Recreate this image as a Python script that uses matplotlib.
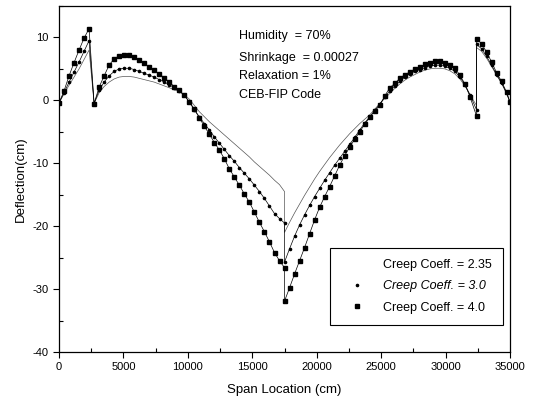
import matplotlib
matplotlib.use('Agg')
import matplotlib.pyplot as plt
from matplotlib.lines import Line2D
from matplotlib.ticker import MultipleLocator

plt.rcParams['font.family'] = ['Liberation Sans', 'DejaVu Sans']
plt.rcParams['axes.unicode_minus'] = False

# Span positions (cm) - left half up to midspan, then right half
x_left = [0, 389, 778, 1167, 1556, 1944, 2333, 2722, 3111, 3500, 3889, 4278,
          4667, 5056, 5444, 5833, 6222, 6611, 7000, 7389, 7778, 8167, 8556,
          8944, 9333, 9722, 10111, 10500, 10889, 11278, 11667, 12056, 12444,
          12833, 13222, 13611, 14000, 14389, 14778, 15167, 15556, 15944,
          16333, 16722, 17111, 17500]
x_right = [17500, 17889, 18278, 18667, 19056, 19444, 19833, 20222, 20611,
           21000, 21389, 21778, 22167, 22556, 22944, 23333, 23722, 24111,
           24500, 24889, 25278, 25667, 26056, 26444, 26833, 27222, 27611,
           28000, 28389, 28778, 29167, 29556, 29944, 30333, 30722, 31111,
           31500, 31889, 32400, 32400, 32789, 33178, 33567, 33956, 34344,
           34733, 35000]

# Creep coeff. = 2.35
d235_left = [-0.4, 1.0, 2.4, 3.7, 5.0, 6.5, 8.0, -0.5, 1.2, 2.2, 2.9, 3.4,
             3.7, 3.8, 3.8, 3.7, 3.5, 3.3, 3.1, 2.9, 2.6, 2.3, 2.0, 1.7, 1.4,
             0.9, 0.2, -0.8, -1.8, -2.6, -3.4, -4.1, -4.8, -5.5, -6.2, -6.9,
             -7.6, -8.3, -9.0, -9.8, -10.5, -11.2, -11.9, -12.7, -13.4, -14.5]
d235_right = [-21.0, -19.4, -17.9, -16.5, -15.1, -13.8, -12.5, -11.3, -10.2,
              -9.1, -8.1, -7.1, -6.2, -5.3, -4.5, -3.7, -3.0, -2.3, -1.4,
              -0.5, 0.3, 1.1, 1.9, 2.6, 3.2, 3.7, 4.1, 4.5, 4.8, 5.0, 5.1,
              5.1, 5.0, 4.7, 4.2, 3.4, 2.3, 0.9, -0.8, 8.4, 7.8, 6.7, 5.4,
              4.0, 2.7, 1.1, -0.3]

# Creep coeff. = 3.0
d30_left = [-0.4, 1.2, 2.9, 4.5, 6.1, 7.8, 9.5, -0.5, 1.6, 2.9, 3.9, 4.6,
            5.0, 5.1, 5.1, 4.9, 4.6, 4.3, 4.0, 3.7, 3.3, 2.9, 2.5, 2.0, 1.5,
            0.8, -0.3, -1.5, -2.6, -3.7, -4.7, -5.8, -6.8, -7.8, -8.8, -9.7,
            -10.7, -11.6, -12.5, -13.5, -14.5, -15.6, -16.8, -18.0, -18.8,
            -19.5]
d30_right = [-25.7, -23.6, -21.6, -19.8, -18.2, -16.7, -15.3, -14.0, -12.7,
             -11.5, -10.3, -9.2, -8.1, -7.0, -5.9, -4.7, -3.6, -2.6, -1.6,
             -0.6, 0.5, 1.5, 2.3, 3.0, 3.7, 4.2, 4.6, 4.9, 5.2, 5.4, 5.6,
             5.6, 5.4, 5.1, 4.6, 3.7, 2.5, 0.9, -1.5, 8.9, 8.2, 7.0, 5.6,
             4.1, 2.8, 1.1, -0.3]

# Creep coeff. = 4.0
d40_left = [-0.4, 1.5, 3.9, 6.0, 8.0, 9.9, 11.4, -0.5, 2.1, 3.9, 5.6, 6.6,
            7.1, 7.25, 7.2, 6.9, 6.4, 5.9, 5.3, 4.8, 4.2, 3.6, 2.9, 2.2, 1.6,
            0.8, -0.2, -1.4, -2.8, -4.1, -5.4, -6.7, -7.9, -9.3, -10.9, -12.2,
            -13.5, -14.9, -16.2, -17.8, -19.4, -20.9, -22.5, -24.2, -25.5,
            -26.6]
d40_right = [-31.9, -29.8, -27.6, -25.5, -23.4, -21.2, -19.0, -17.0, -15.3,
             -13.7, -12.0, -10.3, -8.8, -7.4, -6.2, -5.0, -3.8, -2.7, -1.7,
             -0.8, 0.7, 2.0, 2.7, 3.5, 4.1, 4.5, 5.0, 5.3, 5.7, 6.0, 6.2,
             6.2, 5.9, 5.6, 5.1, 4.0, 2.6, 0.6, -2.5, 9.8, 9.0, 7.7, 6.1,
             4.4, 3.0, 1.3, -0.3]

x_all = x_left + x_right
info_lines = ['Humidity  = 70%', 'Shrinkage  = 0.00027',
              'Relaxation = 1%', 'CEB-FIP Code']
info_y = [10.3, 6.8, 3.8, 0.9]

fig = plt.figure(figsize=(5.4, 4.05), dpi=100)
ax = fig.add_axes([0.1093, 0.1309, 0.8352, 0.8543])

ax.plot(x_all, d235_left + d235_right, color='#555555', lw=0.5)
ax.plot(x_all, d30_left + d30_right, color='black', lw=0.5,
        marker='o', ms=1.6, mfc='black', mec='black')
ax.plot(x_all, d40_left + d40_right, color='black', lw=0.5,
        marker='s', ms=3.3, mfc='black', mec='black')

for txt, yy in zip(info_lines, info_y):
    ax.text(13970, yy, txt, fontsize=9, va='center', ha='left')

ax.set_xlim(0, 35000)
ax.set_ylim(-40, 15)
ax.xaxis.set_major_locator(MultipleLocator(5000))
ax.xaxis.set_minor_locator(MultipleLocator(2500))
ax.yaxis.set_major_locator(MultipleLocator(10))
ax.yaxis.set_minor_locator(MultipleLocator(5))
ax.tick_params(which='major', direction='out', length=4, width=0.8,
               labelsize=8, top=False, right=False)
ax.tick_params(which='minor', direction='in', length=3, width=0.8,
               top=False, right=False)
for s in ax.spines.values():
    s.set_linewidth(0.9)

ax.set_xlabel('Span Location (cm)', fontsize=9.5, labelpad=8)
ax.set_ylabel('Deflection(cm)', fontsize=9.5, labelpad=4)

handles = [Line2D([], [], ls='none', marker=None),
           Line2D([], [], ls='none', marker='o', ms=1.6, color='black'),
           Line2D([], [], ls='none', marker='s', ms=3.3, color='black')]
labels = ['Creep Coeff. = 2.35', 'Creep Coeff. = 3.0', 'Creep Coeff. = 4.0']
leg = ax.legend(handles, labels, loc='lower right',
                bbox_to_anchor=(0.985, 0.078), fontsize=9, frameon=True,
                fancybox=False, edgecolor='black', framealpha=1,
                borderpad=0.9, labelspacing=0.75, handlelength=2.6,
                handletextpad=0.8, borderaxespad=0)
leg.get_frame().set_linewidth(0.8)
leg.get_texts()[1].set_style('italic')

fig.savefig('out.png', dpi=100)
